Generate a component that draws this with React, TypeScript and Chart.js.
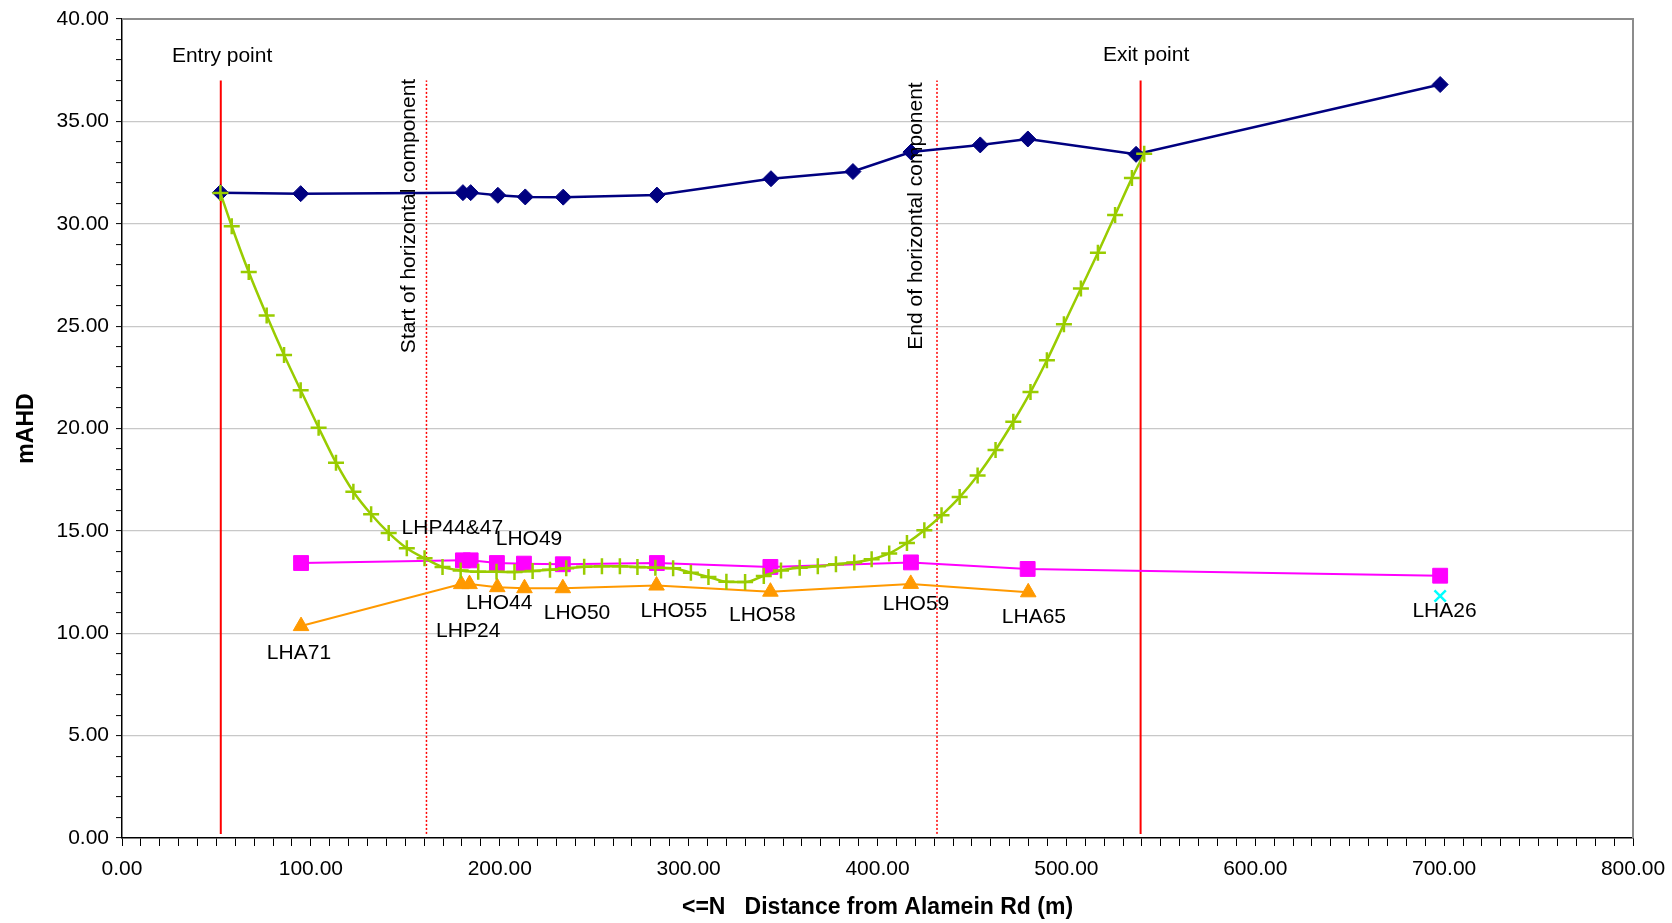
import React, { useEffect, useRef } from "react";
import { Chart, registerables } from "chart.js";

Chart.register(...registerables);

// ---- Data ----
// Drill profile (green crosses)
const profileX = [52.1, 58.1, 67.1, 76.6, 85.8, 94.6, 104.1, 113.3, 122.5, 131.9, 141.2, 150.8, 160.2, 169.7, 179.3, 188.6, 198.3, 207.8, 217.4, 226.6, 235.2, 244.7, 254.1, 263.6, 272.9, 282.4, 291.8, 301.2, 310.5, 320.0, 329.9, 339.8, 348.9, 358.8, 368.4, 378.0, 387.7, 396.9, 406.2, 415.6, 424.8, 433.9, 443.5, 453.0, 462.5, 471.9, 481.0, 489.7, 498.7, 507.7, 516.7, 525.8, 534.7, 541.2];
const profileY = [31.5, 29.88, 27.64, 25.52, 23.59, 21.87, 20.04, 18.33, 16.91, 15.81, 14.9, 14.15, 13.66, 13.24, 13.07, 13.0, 13.0, 12.99, 13.04, 13.1, 13.17, 13.25, 13.27, 13.27, 13.24, 13.2, 13.17, 12.96, 12.75, 12.52, 12.5, 12.8, 13.07, 13.2, 13.27, 13.37, 13.46, 13.61, 13.9, 14.41, 15.03, 15.76, 16.65, 17.71, 18.95, 20.33, 21.78, 23.33, 25.09, 26.84, 28.58, 30.43, 32.23, 33.42];

// Ground surface (navy diamonds)
const surfaceX = [52.1, 94.6, 180.5, 184.6, 199.0, 213.5, 233.6, 283.2, 343.6, 387.0, 417.7, 454.4, 479.6, 536.9, 697.9];
const surfaceY = [31.52, 31.47, 31.52, 31.52, 31.39, 31.31, 31.3, 31.4, 32.2, 32.55, 33.5, 33.85, 34.14, 33.39, 36.8];

// Magenta squares
const magentaX = [94.8, 180.5, 184.6, 198.5, 212.8, 233.4, 283.2, 343.3, 417.7, 479.5, 697.9];
const magentaY = [13.43, 13.56, 13.56, 13.43, 13.4, 13.37, 13.43, 13.24, 13.46, 13.14, 12.81];

// Orange triangles
const orangeX = [94.8, 179.6, 184.0, 198.7, 213.1, 233.4, 283.0, 343.3, 417.6, 479.8];
const orangeY = [10.35, 12.4, 12.4, 12.25, 12.2, 12.2, 12.33, 12.03, 12.41, 12.0];

// Cyan cross
const cyanX = [697.9];
const cyanY = [11.82];

// Vertical reference lines
const entryX = 52.3;
const startX = 161.2;
const endX = 431.5;
const exitX = 539.3;
const refLineY = [0.2, 37.0];

// Point labels
const pointLabelText = ["LHA71", "LHP24", "LHO44", "LHO50", "LHO55", "LHO58", "LHO59", "LHA65", "LHA26", "LHP44&47", "LHO49"];
const pointLabelX = [93.7, 183.3, 199.7, 240.9, 292.2, 339.0, 420.4, 482.8, 700.2, 174.9, 215.5];
const pointLabelY = [9.01, 10.11, 11.45, 10.99, 11.09, 10.89, 11.40, 10.79, 11.09, 15.15, 14.58];

// Reference line captions
const flatCaptionText = ["Entry point", "Exit point"];
const flatCaptionX = [53.0, 542.2];
const flatCaptionY = [38.17, 38.22];
const rotCaptionText = ["Start of horizontal component", "End of horizontal component"];
const rotCaptionX = [152.3, 420.3];
const rotCaptionY = [30.38, 30.38];

// Axes
const xMin = 0, xMax = 800, xMajor = 100, xMinor = 10;
const yMin = 0, yMax = 40, yMajor = 5, yMinor = 1;
const xTitle = "<=N   Distance from Alamein Rd (m)";
const yTitle = "mAHD";

const FONT = '"Liberation Sans", Arial, Helvetica, sans-serif';

const pts = (xs: number[], ys: number[]) => xs.map((x, i) => ({ x, y: ys[i] }));

const textPlugin = {
  id: "textPlugin",
  beforeDatasetsDraw(chart: any) {
    const { ctx, chartArea } = chart;
    ctx.save();
    ctx.strokeStyle = "#8c8c8c";
    ctx.lineWidth = 2;
    ctx.beginPath();
    ctx.moveTo(chartArea.left, chartArea.top);
    ctx.lineTo(chartArea.right, chartArea.top);
    ctx.lineTo(chartArea.right, chartArea.bottom);
    ctx.stroke();
    ctx.restore();
  },
  afterDatasetsDraw(chart: any) {
    const { ctx } = chart;
    const xs = chart.scales.x;
    const ys = chart.scales.y;
    ctx.save();
    ctx.fillStyle = "#000";
    ctx.font = `21px ${FONT}`;
    ctx.textAlign = "center";
    ctx.textBaseline = "middle";
    pointLabelText.forEach((t, i) => {
      ctx.fillText(t, xs.getPixelForValue(pointLabelX[i]), ys.getPixelForValue(pointLabelY[i]));
    });
    flatCaptionText.forEach((t, i) => {
      ctx.fillText(t, xs.getPixelForValue(flatCaptionX[i]), ys.getPixelForValue(flatCaptionY[i]));
    });
    rotCaptionText.forEach((t, i) => {
      ctx.save();
      ctx.translate(xs.getPixelForValue(rotCaptionX[i]), ys.getPixelForValue(rotCaptionY[i]));
      ctx.rotate(-Math.PI / 2);
      ctx.fillText(t, 0, 0);
      ctx.restore();
    });
    ctx.restore();
  },
};

export default function App() {
  const ref = useRef<HTMLCanvasElement | null>(null);

  useEffect(() => {
    if (!ref.current) return;
    const refLine = (x: number, dashed: boolean) => ({
      data: [
        { x, y: refLineY[0] },
        { x, y: refLineY[1] },
      ],
      showLine: true,
      borderColor: "#ff0000",
      borderWidth: dashed ? 1.5 : 2,
      borderDash: dashed ? [2, 2] : [],
      pointRadius: 0,
      order: 10,
    });

    const chart = new Chart(ref.current, {
      type: "scatter",
      data: {
        datasets: [
          {
            data: pts(profileX, profileY),
            showLine: true,
            borderColor: "#99cc00",
            borderWidth: 2.5,
            cubicInterpolationMode: "monotone",
            pointStyle: "cross",
            pointRadius: 8,
            pointBorderWidth: 2.5,
            pointBorderColor: "#99cc00",
            pointBackgroundColor: "#99cc00",
            order: 0,
          },
          {
            data: pts(surfaceX, surfaceY),
            showLine: true,
            borderColor: "#000080",
            borderWidth: 2.5,
            pointStyle: "rectRot",
            pointRadius: 8,
            pointBorderWidth: 1,
            pointBorderColor: "#000080",
            pointBackgroundColor: "#000080",
            order: 2,
          },
          {
            data: pts(magentaX, magentaY),
            showLine: true,
            borderColor: "#ff00ff",
            borderWidth: 2,
            pointStyle: "rect",
            pointRadius: 10.5,
            pointBorderWidth: 1,
            pointBorderColor: "#ff00ff",
            pointBackgroundColor: "#ff00ff",
            order: 3,
          },
          {
            data: pts(orangeX, orangeY),
            showLine: true,
            borderColor: "#ff9900",
            borderWidth: 2,
            pointStyle: "triangle",
            pointRadius: 9,
            pointBorderWidth: 1,
            pointBorderColor: "#ff9900",
            pointBackgroundColor: "#ff9900",
            order: 4,
          },
          {
            data: pts(cyanX, cyanY),
            showLine: false,
            pointStyle: "crossRot",
            pointRadius: 8,
            pointBorderWidth: 2.5,
            pointBorderColor: "#00ffff",
            pointBackgroundColor: "#00ffff",
            order: 1,
          },
          refLine(entryX, false),
          refLine(startX, true),
          refLine(endX, true),
          refLine(exitX, false),
        ] as any,
      },
      options: {
        responsive: false,
        animation: false,
        events: [],
        layout: { padding: { left: 0, right: 39, top: 19, bottom: 0 } },
        plugins: {
          legend: { display: false },
          tooltip: { enabled: false },
        },
        scales: {
          x: {
            type: "linear",
            min: xMin,
            max: xMax,
            afterFit: (s: any) => {
              s.height = 85;
              s.paddingLeft = 0;
              s.paddingRight = 0;
            },
            border: { display: true, color: "#000", width: 1.5 },
            grid: {
              drawOnChartArea: false,
              drawTicks: true,
              tickLength: 8,
              tickColor: "#000",
              tickWidth: 1,
            },
            ticks: {
              stepSize: xMinor,
              autoSkip: false,
              maxRotation: 0,
              minRotation: 0,
              padding: 11,
              color: "#000",
              font: { family: FONT, size: 21 },
              callback: (v: any) => (Math.round(v) % xMajor === 0 ? Number(v).toFixed(2) : ""),
            },
            title: {
              display: true,
              text: xTitle,
              color: "#000",
              font: { family: FONT, size: 23, weight: "bold" },
              padding: { top: 0, bottom: 2 },
            },
          },
          y: {
            type: "linear",
            min: yMin,
            max: yMax,
            afterFit: (s: any) => {
              s.width = 122;
              s.paddingTop = 0;
              s.paddingBottom = 0;
            },
            border: { display: true, color: "#000", width: 1.5 },
            grid: {
              drawOnChartArea: true,
              color: (c: any) =>
                c.tick && Math.round(c.tick.value) % yMajor === 0 && c.tick.value > yMin ? "#c8c8c8" : "rgba(0,0,0,0)",
              lineWidth: 1.2,
              drawTicks: true,
              tickLength: 6,
              tickColor: "#000",
              tickWidth: 1,
            },
            ticks: {
              stepSize: yMinor,
              autoSkip: false,
              padding: 7,
              color: "#000",
              font: { family: FONT, size: 21 },
              callback: (v: any) => (Math.round(v) % yMajor === 0 ? Number(v).toFixed(2) : ""),
            },
            title: {
              display: true,
              text: yTitle,
              color: "#000",
              font: { family: FONT, size: 23, weight: "bold" },
              padding: { top: 13, bottom: 0 },
            },
          },
        },
      } as any,
      plugins: [textPlugin],
    });
    return () => chart.destroy();
  }, []);

  return (
    <div style={{ position: "fixed", left: 0, top: 0, width: 1672, height: 923, background: "#fff" }}>
      <canvas ref={ref} width={1672} height={923} style={{ display: "block" }} />
    </div>
  );
}
